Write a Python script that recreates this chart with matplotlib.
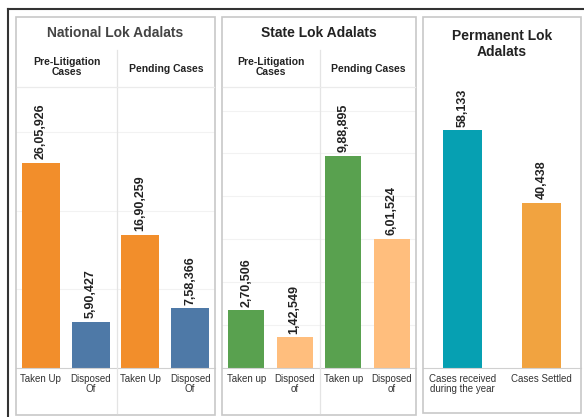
import numpy as np
import matplotlib
matplotlib.use('Agg')
from matplotlib import pyplot as plt
from matplotlib.lines import Line2D
from matplotlib.patches import Rectangle

## Data
nat_cats = ['Taken Up', 'Disposed\nOf', 'Taken Up', 'Disposed\nOf']
nat_vals = [2605926, 590427, 1690259, 758366]
state_cats = ['Taken up', 'Disposed\nof', 'Taken up', 'Disposed\nof']
state_vals = [270506, 142549, 988895, 601524]
perm_cats = ['Cases received\nduring the year', 'Cases Settled']
perm_vals = [58133, 40438]

W, H = 584, 417
plt.rcParams['font.family'] = ['Liberation Sans', 'DejaVu Sans']

def inr(n):
    ## Indian digit grouping, e.g. 26,05,926
    s = str(n)
    if len(s) <= 3:
        return s
    head, tail = s[:-3], s[-3:]
    groups = []
    while len(head) > 2:
        groups.insert(0, head[-2:])
        head = head[:-2]
    if head:
        groups.insert(0, head)
    return ','.join(groups) + ',' + tail

def fx(x):
    return x / W

def fy(y):
    return 1 - y / H

def rect(x0, y0, x1, y1):
    return [fx(x0), fy(y1), fx(x1) - fx(x0), fy(y0) - fy(y1)]

fig = plt.figure(figsize=(W / 100, H / 100), dpi=100)

## outer frame (left + top)
fig.add_artist(Line2D([fx(8), fx(8)], [fy(417), fy(9)], color='#333333', lw=1.5))
fig.add_artist(Line2D([fx(8), fx(584)], [fy(9), fy(9)], color='#333333', lw=1.5))

## panel frames
panels = [(16, 17, 215, 415), (222, 17, 416, 415), (423, 17, 581, 413)]
for (x0, y0, x1, y1) in panels:
    fig.add_artist(Rectangle((fx(x0), fy(y1)), fx(x1) - fx(x0), fy(y0) - fy(y1),
                             transform=fig.transFigure, fill=False,
                             edgecolor='#C8C8C8', lw=1.2))

def draw_panel(x0, x1, cats, vals, colors, ymax, grid_step, width):
    ax = fig.add_axes(rect(x0, 87, x1, 368))
    xs = np.arange(len(vals))
    ax.bar(xs, vals, width=width, color=colors, zorder=2)
    ax.set_xlim(-0.5, len(vals) - 0.5)
    ax.set_ylim(0, ymax)
    if grid_step:
        ax.set_yticks(np.arange(grid_step, ymax, grid_step))
        ax.yaxis.grid(True, color='#F2F2F2', lw=0.8, zorder=0)
    else:
        ax.set_yticks([])
    ax.tick_params(axis='y', length=0, labelleft=False)
    ax.set_xticks(xs)
    ax.set_xticklabels(cats, fontsize=7, color='#333333', linespacing=1.1)
    ax.tick_params(axis='x', length=0, pad=4)
    for s in ['top', 'left', 'right']:
        ax.spines[s].set_visible(False)
    ax.spines['bottom'].set_color('#D0D0D0')
    for x, v in zip(xs, vals):
        ax.annotate(inr(v), (x, v), xytext=(0, 2.5), textcoords='offset points',
                    rotation=90, ha='center', va='bottom', fontsize=9,
                    fontweight='bold', color='#222222')
    return ax

draw_panel(16, 215, nat_cats, nat_vals, ['#F28E2B', '#4E79A7', '#F28E2B', '#4E79A7'],
           3.57e6, 1e6, 0.76)
draw_panel(222, 416, state_cats, state_vals, ['#59A14F', '#FFBE7D', '#59A14F', '#FFBE7D'],
           1.31e6, 2e5, 0.74)
draw_panel(423, 581, perm_cats, perm_vals, ['#06A0B2', '#F1A340'],
           6.87e4, None, 0.49)

## titles
fig.text(fx(115.5), fy(33), 'National Lok Adalats', ha='center', va='center',
         fontsize=10, color='#444444', fontweight='bold')
fig.text(fx(319), fy(33), 'State Lok Adalats', ha='center', va='center',
         fontsize=10, color='#222222', fontweight='bold')
fig.text(fx(502), fy(44), 'Permanent Lok\nAdalats', ha='center', va='center',
         fontsize=10, color='#222222', fontweight='bold', linespacing=1.2)

## sub headers with dividers
for (x0, xm, x1) in [(16, 117, 215), (222, 320, 416)]:
    fig.add_artist(Line2D([fx(xm), fx(xm)], [fy(413), fy(50)], color='#E4E4E4', lw=0.9))
    fig.add_artist(Line2D([fx(x0 + 1), fx(x1 - 1)], [fy(87), fy(87)], color='#EBEBEB', lw=0.9))
    fig.text(fx((x0 + xm) / 2), fy(67), 'Pre-Litigation\nCases', ha='center', va='center',
             fontsize=7.5, fontweight='bold', color='#222222', linespacing=1.1)
    fig.text(fx((xm + x1) / 2), fy(69), 'Pending Cases', ha='center', va='center',
             fontsize=7.5, fontweight='bold', color='#222222')

fig.savefig('out.png', dpi=100)
